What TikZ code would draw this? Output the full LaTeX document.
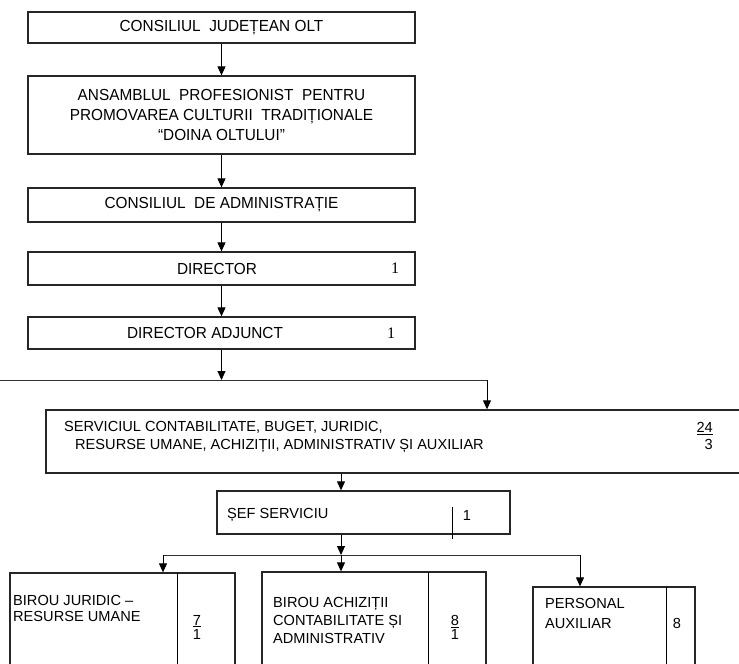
\documentclass[tikz,border=0pt]{standalone}
\usepackage{fontspec}
\setmainfont{Liberation Sans}
\newfontfamily\topfont{Liberation Sans}[FakeStretch=0.96]
\newfontfamily\numfont{Liberation Serif}
\usetikzlibrary{arrows.meta,positioning}

\tikzset{
  box/.style={draw=black!85,line width=1.3pt,rectangle,inner sep=0pt},
  toptext/.style={font=\topfont\fontsize{16}{20}\selectfont,align=center},
  lowtext/.style={font=\fontsize{14.6}{18}\selectfont,align=left,inner sep=0pt},
  nrtext/.style={font=\fontsize{14.6}{14}\selectfont,align=center,inner sep=0pt},
  arr/.style={line width=1pt,-{Triangle[width=8pt,length=9pt]}},
  bus/.style={line width=1pt,draw=black!80}
}

\begin{document}
\begin{tikzpicture}[x=1pt,y=-1pt]
\useasboundingbox (0,0) rectangle (739,664);
\clip (0,0) rectangle (739,664);

% conducere
\node[box,toptext,minimum width=387pt,minimum height=31pt] (cj) at (221.5,27.5) {CONSILIUL\ \ JUDEȚEAN OLT};
\node[box,toptext,minimum width=387pt,minimum height=78pt] (ans) at (221.5,115) {ANSAMBLUL\ \ PROFESIONIST\ \ PENTRU\\PROMOVAREA CULTURII\ \ TRADIȚIONALE\\“DOINA OLTULUI”};
\node[box,toptext,minimum width=387pt,minimum height=34pt] (ca) at (221.5,205) {CONSILIUL\ \ DE ADMINISTRAȚIE};
\node[box,minimum width=387pt,minimum height=33pt] (dir) at (221.5,268.5) {};
\node[toptext] (dirtxt) at (217,268.5) {DIRECTOR};
\node[font=\numfont\fontsize{16}{20}\selectfont] (dirnr) at (395,268.5) {1};
\node[box,minimum width=387pt,minimum height=32pt] (adj) at (221.5,333) {};
\node[toptext] (adjtxt) at (205,333) {DIRECTOR ADJUNCT};
\node[font=\numfont\fontsize{16}{20}\selectfont] (adjnr) at (391,333) {1};

\draw[arr] (cj) -- (ans);
\draw[arr] (ans) -- (ca);
\draw[arr] (ca) -- (dir);
\draw[arr] (dir) -- (adj);

% serviciu
\coordinate (busL) at (-5,380);
\coordinate (busR) at (487,380);
\node[box,minimum width=699pt,minimum height=63pt] (serv) at (395.5,441.5) {};
\node[lowtext,anchor=west] (servtxt) at (64,437) {SERVICIUL CONTABILITATE, BUGET, JURIDIC,\\\hspace{11pt}RESURSE UMANE, ACHIZIȚII, ADMINISTRATIV ȘI AUXILIAR};
\node[lowtext,align=right,anchor=east,font=\fontsize{14.6}{17}\selectfont] (servnr) at (713,436) {\underline{24}\\3};

\draw[bus] (busL) -- (busR);
\draw[arr] (adj.south) -- (adj.south |- busL);
\draw[arr] (busR) -- (busR |- serv.north);

\node[box,minimum width=293pt,minimum height=43pt] (sef) at (363.5,512.5) {};
\node[lowtext,anchor=west] (seftxt) at (227,515) {ȘEF SERVICIU};
\draw[line width=0.9pt] (452,507) -- (452,539);
\node[lowtext] (sefnr) at (467,515) {1};

\coordinate (trunk) at (341,555);
\coordinate (busA) at (163,555);
\coordinate (busC) at (580,555);
\draw[arr] (serv.south -| trunk) -- (sef.north -| trunk);
\draw[arr] (sef.south -| trunk) -- (trunk);
\draw[bus] (busA) -- (busC);

% birouri
\node[box,minimum width=225pt,minimum height=117pt] (jur) at (122.5,631.5) {};
\draw[line width=0.9pt] (177,573) -- (177,690);
\node[lowtext,anchor=west,font=\fontsize{14.6}{16}\selectfont] (jurtxt) at (13,608) {BIROU JURIDIC –\\RESURSE UMANE};
\node[nrtext] (jurnr) at (197,627) {\underline{7}\\1};

\node[box,minimum width=224pt,minimum height=118pt] (ach) at (374,631) {};
\draw[line width=0.9pt] (428,572) -- (428,690);
\node[lowtext,anchor=west] (achtxt) at (273,620) {BIROU ACHIZIȚII\\CONTABILITATE ȘI\\ADMINISTRATIV};
\node[nrtext] (achnr) at (455,627.5) {\underline{8}\\1};

\node[box,minimum width=162pt,minimum height=103pt] (pers) at (614,638.5) {};
\draw[line width=0.9pt] (666,587) -- (666,690);
\node[lowtext,anchor=west,font=\fontsize{14.6}{20}\selectfont] (perstxt) at (545,613) {PERSONAL\\AUXILIAR};
\node[lowtext] (persnr) at (677,623) {8};

\draw[arr] (busA) -- (busA |- jur.north);
\draw[arr] (trunk) -- (trunk |- ach.north);
\draw[arr] (busC) -- (busC |- pers.north);
\end{tikzpicture}
\end{document}
